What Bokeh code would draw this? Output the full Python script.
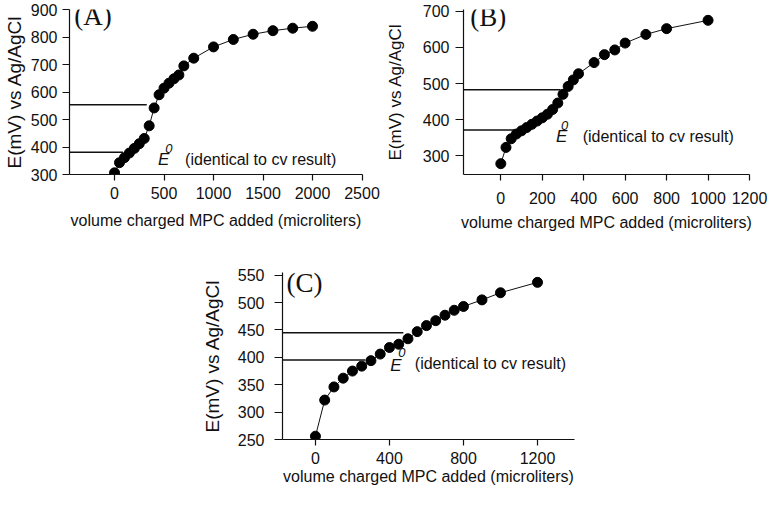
from bokeh.plotting import figure
from bokeh.layouts import row, column, Spacer
from bokeh.models import Range1d, FixedTicker, Label, ColumnDataSource
from bokeh.embed import file_html
from bokeh.resources import INLINE

# ---------------- data ----------------
# Panel A
a_volume = [0, 50, 100, 150, 200, 250, 300, 350, 400, 450, 500, 550, 600, 650,
            700, 800, 1000, 1200, 1400, 1600, 1800, 2000]
a_potential = [306, 343, 361, 378, 395, 412, 431, 477, 542, 590, 614, 632, 648, 662,
               695, 723, 764, 791, 810, 823, 832, 839]
a_e0_levels = [554, 381]
a_e0_ends = [325, 85]
a_xticks = [0, 500, 1000, 1500, 2000, 2500]
a_yticks = [300, 400, 500, 600, 700, 800, 900]

# Panel B
b_volume = [0, 25, 50, 75, 100, 125, 150, 175, 200, 225, 250, 275, 300, 325, 350, 375,
            450, 500, 550, 600, 700, 800, 1000]
b_potential = [278, 323, 347, 360, 369, 378, 387, 396, 405, 415, 428, 446, 470, 492, 510, 527,
               558, 580, 593, 612, 636, 652, 675]
b_e0_levels = [483, 371]
b_e0_ends = [287, 66]
b_xticks = [0, 200, 400, 600, 800, 1000, 1200]
b_yticks = [300, 400, 500, 600, 700]

# Panel C
c_volume = [0, 50, 100, 150, 200, 250, 300, 350, 400, 450, 500, 550, 600, 650, 700, 750,
            800, 900, 1000, 1200]
c_potential = [256, 322, 346, 362, 375, 384, 394, 406, 418, 424, 434, 447, 458, 467, 477, 486,
               493, 505, 518, 537]
c_e0_levels = [445, 395]
c_e0_ends = [475, 270]
c_xticks = [0, 400, 800, 1200]
c_yticks = [250, 300, 350, 400, 450, 500, 550]

x_title = "volume charged MPC added (microliters)"
y_title = "E(mV) vs Ag/AgCl"
note_text = "(identical to cv result)"

SANS = "Liberation Sans"
SERIF = "Liberation Serif"
INK = "#111111"


def make_panel(vol, pot, e0_levels, e0_ends, xr, yr, xticks, yticks,
               width, height, borders, ylab_size, ylab_standoff, ytick_standoff, ytick_out,
               xtick_standoff, xlab_standoff, panel_tag, tag_pos, e_pos, zero_pos, note_pos):
    left, right, top, bottom = borders
    p = figure(width=width, height=height, x_range=Range1d(*xr), y_range=Range1d(*yr),
               output_backend="svg", toolbar_location=None,
               min_border_left=left, min_border_right=right,
               min_border_top=top, min_border_bottom=bottom)
    p.grid.visible = False
    p.outline_line_color = None
    p.background_fill_color = "white"
    p.border_fill_color = "white"

    for ax in (p.xaxis[0], p.yaxis[0]):
        ax.axis_line_color = INK
        ax.axis_line_width = 1.2
        ax.major_tick_line_color = INK
        ax.major_tick_line_width = 1.2
        ax.major_tick_in = 0
        ax.minor_tick_line_color = None
        ax.major_label_text_font = SANS
        ax.major_label_text_font_size = "16px"
        ax.major_label_text_color = INK
        ax.axis_label_text_font = SANS
        ax.axis_label_text_font_style = "normal"
        ax.axis_label_text_color = INK

    p.xaxis[0].ticker = FixedTicker(ticks=xticks)
    p.yaxis[0].ticker = FixedTicker(ticks=yticks)
    p.xaxis[0].axis_label = x_title
    p.yaxis[0].axis_label = y_title
    p.xaxis[0].axis_label_text_font_size = "16px"
    p.yaxis[0].axis_label_text_font_size = ylab_size
    p.xaxis[0].major_tick_out = 6
    p.yaxis[0].major_tick_out = ytick_out
    p.xaxis[0].major_label_standoff = xtick_standoff
    p.yaxis[0].major_label_standoff = ytick_standoff
    p.xaxis[0].axis_label_standoff = xlab_standoff
    p.yaxis[0].axis_label_standoff = ylab_standoff

    # E0 reference lines from the y axis to the curve
    seg = ColumnDataSource(dict(x0=[xr[0]] * len(e0_levels), x1=e0_ends,
                                y0=e0_levels, y1=e0_levels))
    p.segment(x0="x0", y0="y0", x1="x1", y1="y1", source=seg,
              line_color=INK, line_width=1.5)

    src = ColumnDataSource(dict(x=vol, y=pot))
    p.line("x", "y", source=src, line_color=INK, line_width=1)
    p.scatter("x", "y", source=src, size=10, fill_color="black", line_color="black")

    p.add_layout(Label(x=tag_pos[0], y=tag_pos[1], text=panel_tag, text_font=SERIF,
                       text_font_size="27px", text_color=INK,
                       text_align="left", text_baseline="middle"))
    p.add_layout(Label(x=e_pos[0], y=e_pos[1], text="E", text_font=SANS,
                       text_font_style="italic", text_font_size="17px", text_color=INK,
                       text_align="left", text_baseline="alphabetic"))
    p.add_layout(Label(x=zero_pos[0], y=zero_pos[1], text="0", text_font=SANS,
                       text_font_style="italic", text_font_size="13px", text_color=INK,
                       text_align="left", text_baseline="middle"))
    p.add_layout(Label(x=note_pos[0], y=note_pos[1], text=note_text, text_font=SANS,
                       text_font_size="16px", text_color=INK,
                       text_align="left", text_baseline="alphabetic"))
    return p


pA = make_panel(a_volume, a_potential, a_e0_levels, a_e0_ends,
                (-455, 2505), (300, 900), a_xticks, a_yticks,
                382, 237, (65, 20, 9, 63), "19px", 3, 5, 7, 6, 10,
                "(A)", (-408, 875), (440, 356), (512, 394), (713, 353))

pB = make_panel(b_volume, b_potential, b_e0_levels, b_e0_ends,
                (-180, 1200), (248, 705), b_xticks, b_yticks,
                386, 237, (76, 19, 7, 62), "17px", 15, 6, 8, 11, 7,
                "(B)", (-147, 684), (266, 354), (290, 385), (395, 354))

pC = make_panel(c_volume, c_potential, c_e0_levels, c_e0_ends,
                (-178, 1400), (250, 555), c_xticks, c_yticks,
                386, 253, (80, 10, 35, 51), "19px", 12, 10, 8, 6, 1,
                "(C)", (-156, 535), (404, 386), (448, 408), (537, 388))

page = column(row(pA, pB), row(Spacer(width=198, height=253), pC))

open("out.html", "w").write(file_html(page, INLINE))
